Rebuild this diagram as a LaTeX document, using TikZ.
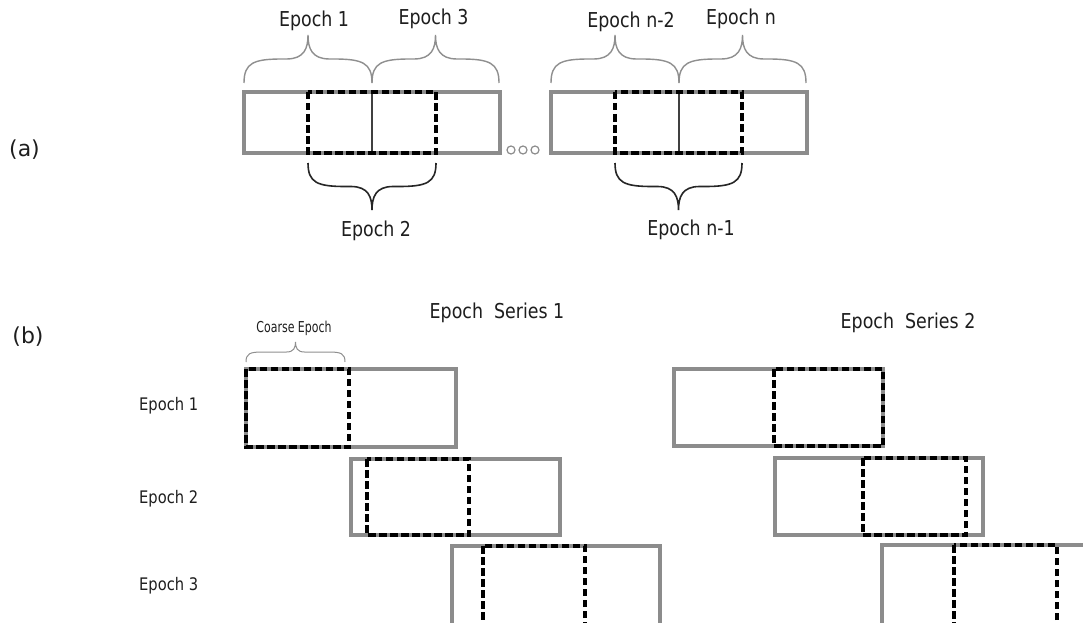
\documentclass[tikz,border=0pt]{standalone}
\usepackage{fontspec}
\usepackage{graphicx}
\setmainfont{DejaVu Sans}[FakeStretch=0.85]
\newfontfamily\partfont{DejaVu Sans}

\definecolor{framegray}{HTML}{8C8C8C}
\definecolor{bracegray}{HTML}{8F8F8F}
\definecolor{splitgray}{HTML}{404040}
\definecolor{inktext}{HTML}{1E1E1E}

% curly brace between x = #2 and x = #3, ends at y = #4, tip at y = #5
\newcommand\epochbrace[5][]{%
  \pgfmathsetmacro\ebxl{#2}%
  \pgfmathsetmacro\ebxr{#3}%
  \pgfmathsetmacro\ebyb{#4}%
  \pgfmathsetmacro\ebyt{#5}%
  \pgfmathsetmacro\ebh{\ebyb-\ebyt}%
  \pgfmathsetmacro\eba{abs(\ebh)}%
  \pgfmathsetmacro\ebym{\ebyb-0.5*\ebh}%
  \pgfmathsetmacro\ebxm{0.5*(\ebxl+\ebxr)}%
  \pgfmathsetmacro\ebyq{\ebyb-0.42*\ebh}%
  \pgfmathsetmacro\ebyc{\ebym-0.22*\ebh}%
  \pgfmathsetmacro\ebla{\ebxl+0.2*\eba}%
  \pgfmathsetmacro\eblb{\ebxl+0.8*\eba}%
  \pgfmathsetmacro\ebma{\ebxm-0.45*\eba}%
  \pgfmathsetmacro\ebmb{\ebxm-0.08*\eba}%
  \pgfmathsetmacro\ebmc{\ebxm+0.08*\eba}%
  \pgfmathsetmacro\ebmd{\ebxm+0.45*\eba}%
  \pgfmathsetmacro\ebra{\ebxr-0.2*\eba}%
  \pgfmathsetmacro\ebrb{\ebxr-0.8*\eba}%
  \draw[#1] (\ebxl,\ebyb) .. controls (\ebxl,\ebyq) and (\ebla,\ebym) .. (\eblb,\ebym)
    -- (\ebma,\ebym) .. controls (\ebmb,\ebym) and (\ebxm,\ebyc) .. (\ebxm,\ebyt)
    .. controls (\ebxm,\ebyc) and (\ebmc,\ebym) .. (\ebmd,\ebym)
    -- (\ebrb,\ebym) .. controls (\ebra,\ebym) and (\ebxr,\ebyq) .. (\ebxr,\ebyb);
}

\tikzset{
  frame/.style={draw=framegray, line width=3.4pt},
  window/.style={draw=black, line width=3.4pt, dash pattern=on 7.5pt off 3.5pt},
  split/.style={draw=splitgray, line width=2.4pt},
  topbrace/.style={draw=bracegray, line width=1.4pt},
  lowbrace/.style={draw=black!85, line width=1.6pt},
  smallbrace/.style={draw=bracegray, line width=1pt},
  biglabel/.style={text=inktext, inner sep=0pt, anchor=base, font=\fontsize{20.5}{24}\selectfont},
  rowlabel/.style={text=inktext, inner sep=0pt, anchor=base west, font=\fontsize{17.3}{20}\selectfont},
  partlabel/.style={text=inktext, inner sep=0pt, font=\partfont\fontsize{22}{26}\selectfont},
  dot/.style={draw=framegray, line width=1.2pt, circle, minimum size=8pt, inner sep=0pt},
}

\begin{document}
\begin{tikzpicture}[x=1pt, y=-1pt]
\useasboundingbox (0,0) rectangle (1083,623);
\clip (0,0) rectangle (1083,623);
\fill[white] (0,0) rectangle (1083,623);

% ---------- (a) overlapping epochs ----------
\node[partlabel] (la) at (24.5,150) {(a)};

% first block
\draw[frame] (244,92) rectangle (500,153);
\draw[split] (372,92) -- (372,153);
\draw[window] (308,92) rectangle (436,153);
\epochbrace[topbrace]{244}{372}{83}{35}
\epochbrace[topbrace]{372}{499}{83}{35}
\epochbrace[lowbrace]{308}{436}{163}{210}
\node[biglabel] (e1) at (314,27) {Epoch 1};
\node[biglabel] (e3) at (433.5,25) {Epoch 3};
\node[biglabel] (e2) at (376,236) {Epoch 2};

% ellipsis
\node[dot] (d1) at (511,150) {};
\node[dot] (d2) at (523,150) {};
\node[dot] (d3) at (535,150) {};

% last block
\draw[frame] (551,92) rectangle (807,153);
\draw[split] (679,92) -- (679,153);
\draw[window] (615,92) rectangle (742,153);
\epochbrace[topbrace]{551}{679}{83}{35}
\epochbrace[topbrace]{679}{806}{83}{35}
\epochbrace[lowbrace]{615}{742}{163}{210}
\node[biglabel] (en2) at (631,28) {Epoch n-2};
\node[biglabel] (en) at (741,25) {Epoch n};
\node[biglabel] (en1) at (691,235) {Epoch n-1};

% ---------- (b) epoch series ----------
\node[partlabel] (lb) at (28,337) {(b)};

\node[biglabel] (s1) at (497,318) {Epoch\ \ Series 1};
\node[biglabel] (s2) at (908,328) {Epoch\ \ Series 2};

\node[rowlabel] (r1) at (139,410) {Epoch 1};
\node[rowlabel] (r2) at (139,503) {Epoch 2};
\node[rowlabel] (r3) at (139,590) {Epoch 3};

% coarse epoch marker
\epochbrace[smallbrace]{246}{345}{362}{342}
\node[text=inktext, inner sep=0pt, anchor=base] (ce) at (294,332)
  {\fontsize{15}{18}\selectfont\scalebox{0.86}[1]{Coarse Epoch}};

% series 1
\draw[frame] (246,369) rectangle (456,447);
\draw[window] (246,369) rectangle (349,447);
\draw[frame] (351,459) rectangle (560,535);
\draw[window] (367,459) rectangle (469,535);
\draw[frame] (452,546) rectangle (660,630);
\draw[window] (483,546) rectangle (585,630);

% series 2
\draw[frame] (674,369) rectangle (883,446);
\draw[window] (774,369) rectangle (883,446);
\draw[frame] (775,458) rectangle (983,535);
\draw[window] (863,458) rectangle (966,535);
\draw[frame] (882,545) rectangle (1095,630);
\draw[window] (954,545) rectangle (1057,630);
\end{tikzpicture}
\end{document}
